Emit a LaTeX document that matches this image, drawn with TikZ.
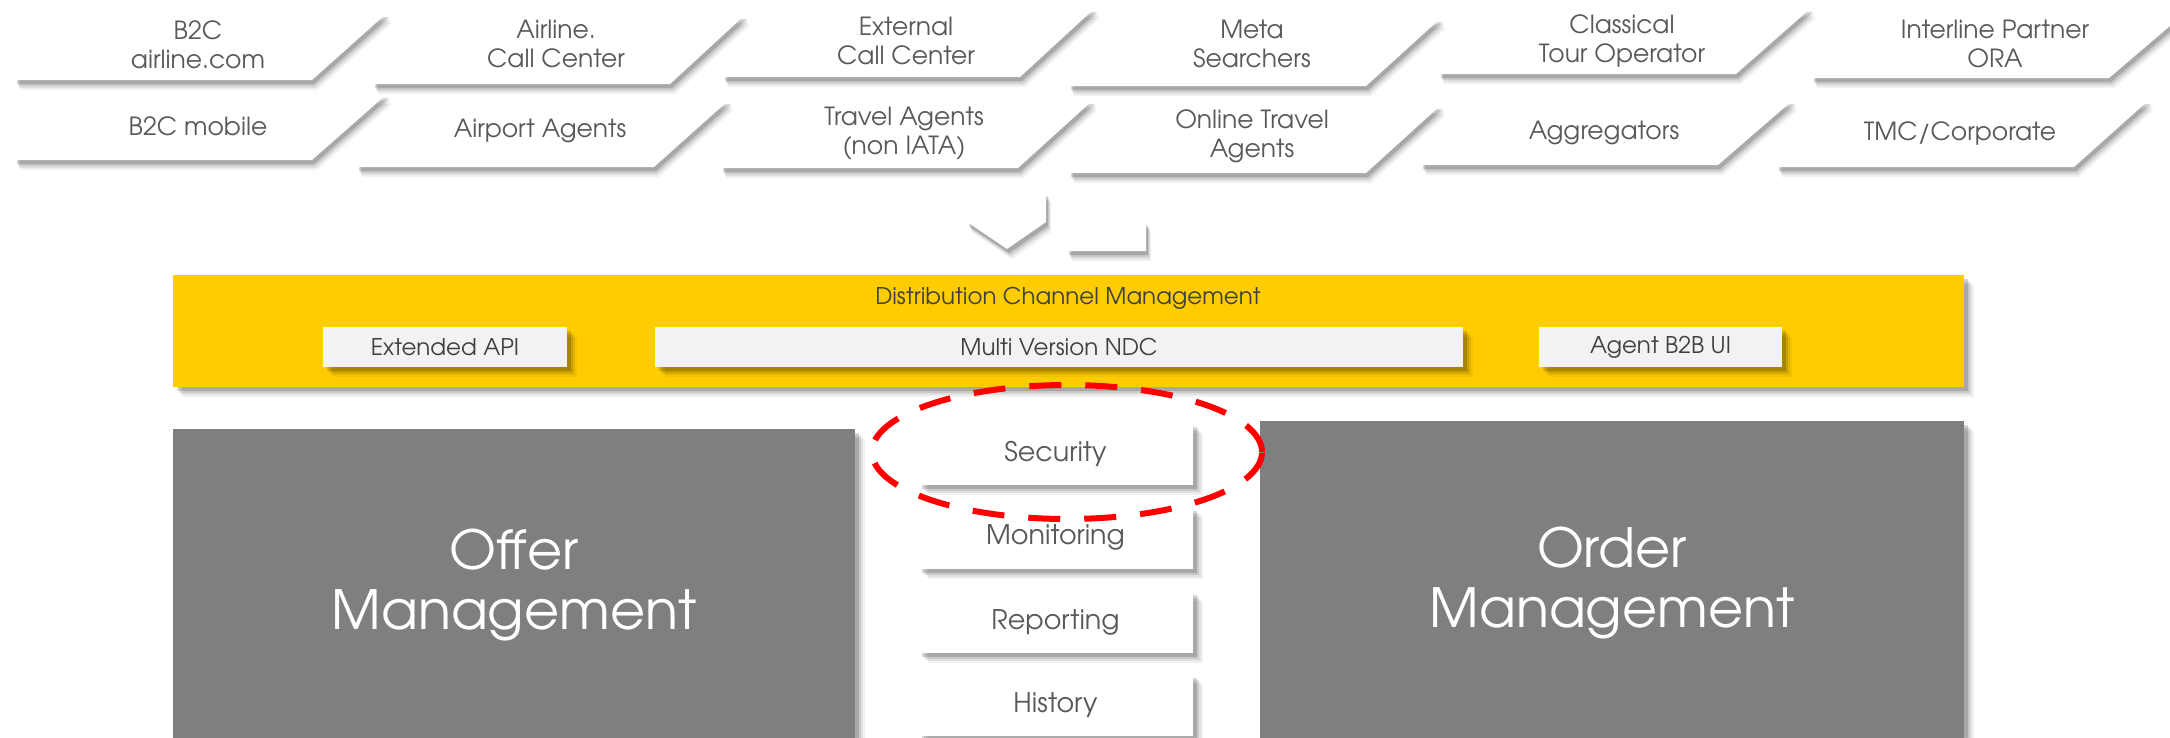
\documentclass[tikz,border=0pt]{standalone}
\usepackage{fontspec}
\setmainfont{texgyreadventor}[Extension=.otf,UprightFont=*-regular,BoldFont=*-bold,ItalicFont=*-italic,BoldItalicFont=*-bolditalic]
\usetikzlibrary{shadows}
\definecolor{dcyellow}{RGB}{255,204,0}
\definecolor{dcgray}{RGB}{127,127,127}
\definecolor{dclight}{RGB}{242,242,242}
\definecolor{dctext}{RGB}{89,89,89}
\definecolor{dcdark}{RGB}{64,64,64}
\definecolor{dcred}{RGB}{255,0,0}
% #1 name, #2 text centre x, #3 top, #4 bottom, #5 text y, #6 text
\newcommand{\chanbox}[6]{%
  \path[chanshape] ({#2-183},#3) -- ({#2+189},#3) -- ({#2+114},#4) -- ({#2-183},#4) -- cycle;
  \node[chantext] (#1) at (#2,#5) {#6};
}
\begin{document}
\begin{tikzpicture}[x=1pt,y=-1pt,
  softshade/.style={
    drop shadow={shadow xshift=5pt,shadow yshift=-10pt,fill=black,opacity=.05},
    drop shadow={shadow xshift=4pt,shadow yshift=-8pt,fill=black,opacity=.07},
    drop shadow={shadow xshift=3pt,shadow yshift=-6pt,fill=black,opacity=.10},
    drop shadow={shadow xshift=2pt,shadow yshift=-4pt,fill=black,opacity=.16}},
  boldshade/.style={
    drop shadow={shadow xshift=10pt,shadow yshift=-10pt,fill=black,opacity=.05},
    drop shadow={shadow xshift=8pt,shadow yshift=-8pt,fill=black,opacity=.07},
    drop shadow={shadow xshift=6pt,shadow yshift=-6pt,fill=black,opacity=.10},
    drop shadow={shadow xshift=4pt,shadow yshift=-4pt,fill=black,opacity=.16}},
  chanshape/.style={fill=white,softshade},
  chantext/.style={text=dctext,align=center,inner sep=0pt,font=\fontsize{25}{29}\selectfont},
  bandbox/.style={fill=dcyellow,inner sep=0pt,boldshade},
  bandtitle/.style={text=dcdark,inner sep=0pt,font=\fontsize{23}{27}\selectfont},
  apibox/.style={fill=dclight,inner sep=0pt,minimum height=40pt,text=dcdark,
    font=\fontsize{23}{27}\selectfont,boldshade},
  bigbox/.style={fill=dcgray,inner sep=0pt,anchor=north west,boldshade},
  bigtext/.style={text=white,align=center,inner sep=0pt,font=\fontsize{54}{60}\selectfont},
  midbox/.style={fill=white,inner sep=0pt,minimum width=275pt,minimum height=62pt,
    text=dctext,font=\fontsize{27}{31}\selectfont,boldshade},
  secring/.style={draw=dcred,line width=6pt,dash pattern=on 32pt off 24pt}
]
\useasboundingbox (0,0) rectangle (2170,737);
\clip (0,0) rectangle (2170,737);
\fill[white] (0,0) rectangle (2170,737);

% ---- channel boxes, row 1 (drawn right to left)
\chanbox{r1f}{1995}{14}{78}{44}{Interline Partner\\ORA}
\chanbox{r1e}{1622}{8}{74}{41}{Classical\\Tour Operator}
\chanbox{r1d}{1252}{18}{86}{44}{Meta\\Searchers}
\chanbox{r1c}{906}{8}{77}{41}{External\\Call Center}
\chanbox{r1b}{556}{15}{84}{44}{Airline.\\Call Center}
\chanbox{r1a}{198}{13}{80}{45}{B2C\\airline.com}
% ---- channel boxes, row 2
\chanbox{r2f}{1960}{100}{167}{133}{TMC/Corporate}
\chanbox{r2e}{1604}{100}{165}{133}{Aggregators}
\chanbox{r2d}{1252}{105}{173}{136}{Online Travel\\Agents}
\chanbox{r2c}{904}{100}{168}{134}{Travel Agents\\(non IATA)}
\chanbox{r2b}{540}{100}{167}{131}{Airport Agents}
\chanbox{r2a}{198}{94}{160}{126}{B2C mobile}

% ---- chevrons
\path[chanshape] (967,192) -- (1046,192) -- (1046,222) -- (1007,249) -- (967,222) -- cycle;
\path[chanshape] (1067,195) -- (1110,195) -- (1146,222) -- (1146,251) -- (1067,251) -- cycle;

% ---- distribution channel management band
\node[bandbox,minimum width=1791pt,minimum height=112pt] (dcm) at (1068.5,331) {};
\node[bandtitle] (dcmtitle) at (1068,298) {Distribution Channel Management};
\node[apibox,minimum width=244pt] (extapi) at (445,347) {Extended API};
\node[apibox,minimum width=808pt] (ndc) at (1059,347) {Multi Version NDC};
\node[apibox,minimum width=243pt] (agentui) at (1660.5,347) {Agent B2B UI};

% ---- offer / order management
\node[bigbox,minimum width=682pt,minimum height=340pt] (offerbox) at (173,429) {};
\node[bigtext] (offer) at (514,585) {Offer\\Management};
\node[bigbox,minimum width=704pt,minimum height=340pt] (orderbox) at (1260,421) {};
\node[bigtext] (order) at (1612,583) {Order\\Management};

% ---- middle services
\node[midbox] (security) at (1055.5,454) {Security};
\node[midbox] (monitoring) at (1055.5,537.5) {Monitoring};
\node[midbox] (reporting) at (1055.5,622) {Reporting};
\node[midbox] (history) at (1055.5,705) {History};

% ---- highlight ring
\draw[secring] (1067,452) ellipse [x radius=195pt,y radius=67pt];
\end{tikzpicture}
\end{document}
